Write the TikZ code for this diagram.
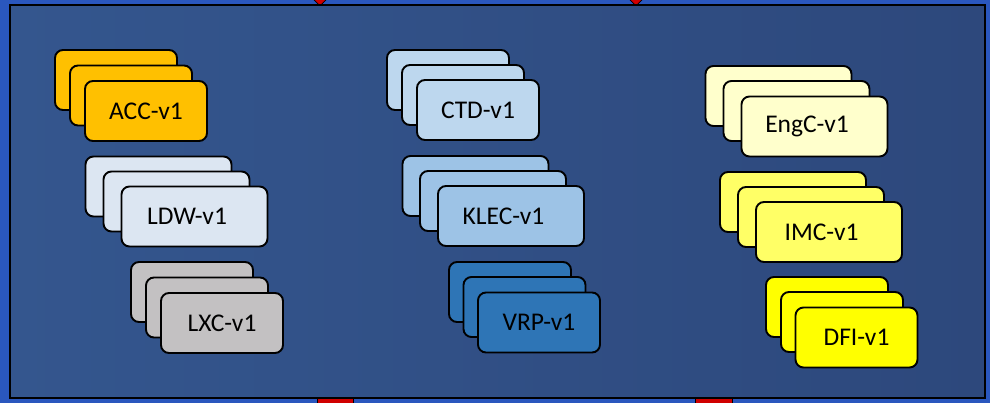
\documentclass[tikz,border=0pt]{standalone}
\usepackage{fontspec}
\setmainfont{Carlito}
\usetikzlibrary{shapes.geometric}
\usepackage{xcolor}
\definecolor{bgblue}{HTML}{2A57BE}
\definecolor{panelblue}{HTML}{2D487C}
\definecolor{panelhi}{HTML}{34568E}
\definecolor{markred}{HTML}{D00000}
\definecolor{accorange}{HTML}{FFC000}
\definecolor{ldwpale}{HTML}{DCE6F2}
\definecolor{lxcgray}{HTML}{C3C1C2}
\definecolor{ctdblue}{HTML}{BDD7EE}
\definecolor{klecblue}{HTML}{9DC3E6}
\definecolor{vrpblue}{HTML}{2E75B6}
\definecolor{engcream}{HTML}{FFFFCC}
\definecolor{imcyellow}{HTML}{FFFF66}
\definecolor{dfiyellow}{HTML}{FFFF00}

\tikzset{
  card/.style={draw=black, line width=1.9pt, rounded corners=8pt,
               minimum width=122pt, minimum height=60pt, inner sep=0pt,
               text=black, font=\fontsize{25.5}{30}\selectfont},
  widecard/.style={card, minimum width=146pt,
               execute at begin node={\hspace*{-15pt}}},
  marker/.style={draw=black, line width=0.8pt, fill=markred, inner sep=0pt}
}

\begin{document}
\begin{tikzpicture}[x=1pt, y=-1pt]
        \useasboundingbox (0,0) rectangle (990,403);
        \fill[bgblue] (0,0) rectangle (990,403);
        % link markers on the panel edges
        \node[marker, diamond, minimum width=18pt, minimum height=18pt] (tm1) at (320,-3) {};
        \node[marker, diamond, minimum width=18pt, minimum height=18pt] (tm2) at (636,-3) {};
        \node[marker, minimum width=36pt, minimum height=12pt] (bm1) at (335,404) {};
        \node[marker, minimum width=37pt, minimum height=12pt] (bm2) at (713.5,404) {};
        \shade[left color=panelhi, right color=panelblue, draw=black, line width=1.5pt]
              (10,5) rectangle (985,398);
        % left column
        \node[card, fill=accorange] (acc3) at (116,80) {};
        \node[card, fill=accorange] (acc2) at (131,95.5) {};
        \node[card, fill=accorange] (acc) at (146,111) {ACC-v1};
        \node[widecard, fill=ldwpale] (ldw3) at (158.5,186.5) {};
        \node[widecard, fill=ldwpale] (ldw2) at (176.5,201.5) {};
        \node[widecard, fill=ldwpale] (ldw) at (194.5,216.5) {LDW-v1};
        \node[card, fill=lxcgray] (lxc3) at (192,292) {};
        \node[card, fill=lxcgray] (lxc2) at (207,307.5) {};
        \node[card, fill=lxcgray] (lxc) at (222,323) {LXC-v1};
        % middle column
        \node[card, fill=ctdblue] (ctd3) at (448,80) {};
        \node[card, fill=ctdblue] (ctd2) at (463,95) {};
        \node[card, fill=ctdblue] (ctd) at (478,110) {CTD-v1};
        \node[widecard, fill=klecblue] (klec3) at (475.5,186) {};
        \node[widecard, fill=klecblue] (klec2) at (493,201) {};
        \node[widecard, fill=klecblue] (klec) at (511,216) {KLEC-v1};
        \node[card, fill=vrpblue] (vrp3) at (510,292) {};
        \node[card, fill=vrpblue] (vrp2) at (524.5,307) {};
        \node[card, fill=vrpblue] (vrp) at (539,322.5) {VRP-v1};
        % right column
        \node[widecard, fill=engcream] (engc3) at (778.5,96) {};
        \node[widecard, fill=engcream] (engc2) at (796.5,111) {};
        \node[widecard, fill=engcream] (engc) at (814.5,126.5) {EngC-v1};
        \node[widecard, fill=imcyellow] (imc3) at (793,202) {};
        \node[widecard, fill=imcyellow] (imc2) at (811,217) {};
        \node[widecard, fill=imcyellow] (imc) at (829,232) {IMC-v1};
        \node[card, fill=dfiyellow] (dfi3) at (827,307) {};
        \node[card, fill=dfiyellow] (dfi2) at (842,322) {};
        \node[card, fill=dfiyellow] (dfi) at (856.5,337.5) {DFI-v1};
\end{tikzpicture}
\end{document}
